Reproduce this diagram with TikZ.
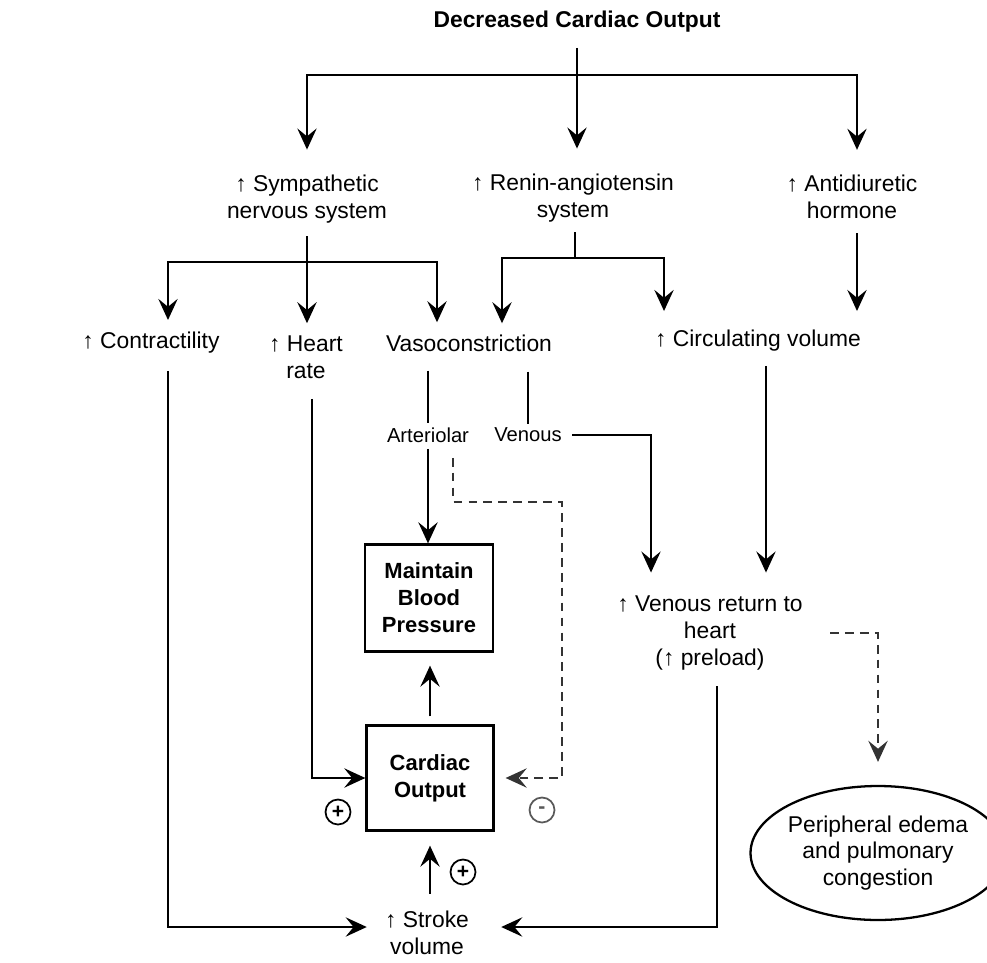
\documentclass[tikz,border=0pt]{standalone}
\usepackage{fontspec}
\setmainfont{Liberation Sans}
\usetikzlibrary{arrows.meta,shapes.geometric}

\tikzset{
  txt/.style={inner sep=0pt, align=center, font=\fontsize{13}{15.3}\selectfont},
  lbl/.style={inner sep=0pt, font=\fontsize{11.5}{14}\selectfont},
  box/.style={draw, line width=1.3pt, inner sep=0pt, align=center,
    font=\fontsize{12.5}{15.3}\selectfont\bfseries},
  ln/.style={line width=1.2pt},
  arr/.style={ln, -{Stealth[length=12pt,width=11pt,inset=4.5pt]}},
  dsh/.style={arr, black!80, dash pattern=on 5pt off 3.5pt},
  sgn/.style={circle, draw, line width=1pt, minimum size=0.5cm, inner sep=0pt,
    font=\fontsize{12}{12}\selectfont\bfseries}
}

\begin{document}
\begin{tikzpicture}[x=0.02cm, y=-0.02cm]
  \useasboundingbox (0,0) rectangle (987,963);

  \node[txt, font=\fontsize{13}{15.3}\selectfont\bfseries] (title) at (577,22) {Decreased Cardiac Output};

  \node[txt] (symp) at (307,199) {↑ Sympathetic\\nervous system};
  \node[txt] (renin) at (573,198) {↑ Renin-angiotensin\\system};
  \node[txt] (adh) at (852,197) {↑ Antidiuretic\\hormone};

  \node[txt] (contr) at (151,343) {↑ Contractility};
  \node[txt] (hr) at (306,357) {↑ Heart\\rate};
  \node[txt] (vaso) at (469,343) {Vasoconstriction};
  \node[txt] (circ) at (758,341) {↑ Circulating volume};

  \node[lbl] (art) at (428,435) {Arteriolar};
  \node[lbl] (ven) at (528,435) {Venous};

  \node[box, minimum width=2.56cm, minimum height=2.14cm] (mbp) at (429,598) {Maintain\\Blood\\Pressure};
  \node[box, minimum width=2.54cm, minimum height=2.1cm] (co) at (430,778) {Cardiac\\Output};

  \node[txt] (vr) at (710,633) {↑ Venous return to\\heart\\(↑ preload)};
  \node[txt] (sv) at (427,933) {↑ Stroke\\volume};
  \node[txt, ellipse, draw, line width=1.3pt, minimum width=4.84cm, minimum height=2.68cm] (edema) at (878,853) {Peripheral edema\\and pulmonary\\congestion};

  \node[sgn] (pl1) at (338,812) {+};
  \node[sgn] (pl2) at (463,872) {+};
  \node[sgn, black!65] (mi) at (542,810) {-};

  \coordinate (split) at (577,75);
  \coordinate (ssplit) at (308,262);
  \coordinate (rsplit) at (575,258);
  \coordinate (dcorner) at (562,502);

  \draw[arr, shorten <=0.3cm, shorten >=0.5cm] (title.south) -- (title.south |- renin.north);
  \draw[arr, shorten >=0.5cm] (split) -| (symp.north);
  \coordinate (adhin) at ([xshift=0.1cm]adh.north);
  \draw[arr, shorten >=0.5cm] (split) -| (adhin);

  \draw[arr, shorten <=0.26cm, shorten >=0.24cm] (symp.south) -- (symp.south |- hr.north);
  \coordinate (contin) at ([xshift=0.34cm]contr.north);
  \coordinate (vasoin1) at ([xshift=-0.64cm]vaso.north);
  \draw[arr, shorten >=0.24cm] (ssplit) -| (contin);
  \draw[arr, shorten >=0.24cm] (ssplit) -| (vasoin1);

  \draw[ln, shorten <=0.2cm] (renin.south -| rsplit) -- (rsplit);
  \coordinate (vasoin2) at ([xshift=0.66cm]vaso.north);
  \coordinate (circin) at ([xshift=-1.88cm]circ.north);
  \draw[arr, shorten >=0.22cm] (rsplit) -| (vasoin2);
  \draw[arr, shorten >=0.38cm] (rsplit) -| (circin);

  \coordinate (adhout) at ([xshift=0.1cm]adh.south);
  \draw[arr, shorten <=0.28cm, shorten >=0.38cm] (adhout) -- (adhout |- circ.north);

  \coordinate (contout) at ([xshift=0.34cm]contr.south);
  \draw[arr, shorten <=0.34cm, shorten >=0.36cm] (contout) |- ([yshift=0.12cm]sv.west);

  \coordinate (hrout) at ([xshift=0.12cm]hr.south);
  \draw[arr, shorten <=0.4cm] (hrout) |- (co.west);

  \draw[ln, shorten <=0.38cm, shorten >=0.08cm] (art.north |- vaso.south) -- (art.north);
  \draw[arr, shorten <=0.12cm] (art.south) -- (art.south |- mbp.north);
  \draw[ln, shorten <=0.4cm, shorten >=0.08cm] (ven.north |- vaso.south) -- (ven.north);

  \coordinate (vrin) at ([xshift=-1.18cm]vr.north);
  \draw[arr, shorten <=0.2cm, shorten >=0.46cm] (ven.east) -| (vrin);

  \coordinate (dstart) at ([xshift=0.5cm]art.south);
  \draw[dsh, shorten <=0.3cm, shorten >=0.22cm] (dstart) |- (dcorner) |- (co.east);

  \draw[arr, shorten <=0.16cm, shorten >=0.26cm] (co.north) -- (co.north |- mbp.south);
  \draw[arr, shorten <=0.34cm, shorten >=0.28cm] (sv.north -| co.south) -- (co.south);

  \coordinate (circout) at ([xshift=0.16cm]circ.south);
  \draw[arr, shorten <=0.28cm, shorten >=0.46cm] (circout) -- (circout |- vr.north);

  \coordinate (vrout) at ([xshift=0.14cm]vr.south);
  \draw[arr, shorten <=0.32cm, shorten >=0.64cm] (vrout) |- ([yshift=0.12cm]sv.east);

  \draw[dsh, shorten <=0.54cm, shorten >=0.46cm] (vr.east) -| (edema.north);
\end{tikzpicture}
\end{document}
